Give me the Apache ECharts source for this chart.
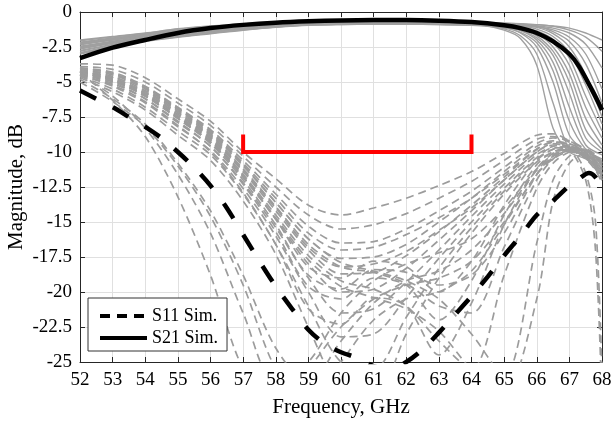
<!DOCTYPE html>
<html>
<head>
<meta charset="utf-8">
<script src="https://cdn.jsdelivr.net/npm/echarts@6/dist/echarts.min.js"></script>
<style>
html,body{margin:0;padding:0;background:#fff;}
#chart{width:611px;height:423px;}
</style>
</head>
<body>
<div id="chart"></div>
<script>
// ---- nominal simulated S-parameters ----
const freqS11Nom = [52,52.5,53,53.5,54,54.5,55,55.5,56,56.5,57,57.5,58,58.5,59,59.5,60,60.5,61,61.5,62,62.5,63,63.5,64,64.5,65,65.5,66,66.5,67,67.3,67.6,67.8,68];
const s11Nom     = [-5.6,-6.2,-6.8,-7.5,-8.2,-9.0,-10.0,-11.1,-12.4,-14.0,-15.9,-17.8,-19.6,-21.2,-22.7,-23.7,-24.3,-24.7,-25.3,-25.5,-25.0,-24.1,-22.9,-21.6,-20.3,-18.9,-17.4,-16.0,-14.5,-13.5,-12.4,-11.9,-11.5,-11.8,-12.6];
const freqS21Nom = [52,53,54,55,56,57,58,59,60,61,62,63,64,65,65.5,66,66.5,67,67.3,67.7,68];
const s21Nom     = [-3.3,-2.55,-2.0,-1.5,-1.15,-0.92,-0.76,-0.66,-0.6,-0.58,-0.58,-0.62,-0.72,-0.95,-1.15,-1.5,-2.1,-3.0,-3.9,-5.6,-7.0];

// ---- Monte-Carlo runs (grey) ----
const freqS21MC = [52,53,54,55,56,57,58,59,60,61,62,63,64,65,65.5,66,66.5,67,67.5,68];
const s21MC = [
  [-2.0,-1.75,-1.5,-1.2,-1.0,-0.85,-0.75,-0.68,-0.62,-0.6,-0.6,-0.62,-0.68, -0.9,-1.1,-1.55,-2.5,-4.4,-7.6,-9.5],
  [-2.15,-1.86,-1.59,-1.29,-1.08,-0.92,-0.8,-0.72,-0.66,-0.64,-0.64,-0.66,-0.72, -1.1,-1.5,-2.5,-5.0,-8.8,-10.0,-10.8],
  [-2.3,-1.98,-1.68,-1.38,-1.17,-0.99,-0.86,-0.76,-0.7,-0.68,-0.68,-0.7,-0.76, -0.85,-0.95,-1.1,-1.55,-2.5,-4.5,-7.5],
  [-2.45,-2.09,-1.77,-1.47,-1.25,-1.05,-0.91,-0.8,-0.75,-0.73,-0.73,-0.75,-0.8, -1.3,-1.9,-3.8,-8.3,-10.0,-10.5,-11.5],
  [-2.6,-2.2,-1.86,-1.56,-1.33,-1.12,-0.96,-0.84,-0.79,-0.77,-0.77,-0.79,-0.84, -0.9,-0.95,-1.0,-1.15,-1.5,-2.3,-4.0],
  [-2.75,-2.31,-1.95,-1.65,-1.41,-1.19,-1.01,-0.88,-0.83,-0.81,-0.81,-0.83,-0.88, -1.05,-1.3,-1.85,-3.1,-5.8,-9.0,-10.0],
  [-2.9,-2.43,-2.04,-1.74,-1.5,-1.26,-1.07,-0.92,-0.87,-0.85,-0.85,-0.87,-0.92, -1.0,-1.1,-1.35,-1.95,-3.3,-6.0,-8.5],
  [-3.0,-2.5,-2.1,-1.8,-1.55,-1.3,-1.1,-0.95,-0.9,-0.88,-0.88,-0.9,-0.95, -1.15,-1.45,-2.2,-4.2,-7.8,-9.8,-10.5],
  [-2.05,-1.79,-1.53,-1.23,-1.03,-0.87,-0.77,-0.69,-0.63,-0.61,-0.61,-0.63,-0.69, -0.8,-0.85,-1.0,-1.4,-2.1,-3.7,-6.5],
  [-2.2,-1.9,-1.62,-1.32,-1.11,-0.94,-0.82,-0.73,-0.68,-0.66,-0.66,-0.68,-0.73, -1.2,-1.7,-3.0,-6.5,-9.8,-10.2,-11.0],
  [-2.35,-2.01,-1.71,-1.41,-1.19,-1.01,-0.87,-0.77,-0.72,-0.7,-0.7,-0.72,-0.77, -0.8,-0.83,-0.9,-1.02,-1.3,-1.8,-2.8],
  [-2.5,-2.13,-1.8,-1.5,-1.28,-1.08,-0.93,-0.82,-0.76,-0.74,-0.74,-0.76,-0.82, -0.98,-1.2,-1.7,-2.8,-5.0,-8.4,-9.8],
  [-2.65,-2.24,-1.89,-1.59,-1.36,-1.14,-0.98,-0.86,-0.8,-0.78,-0.78,-0.8,-0.86, -0.95,-1.02,-1.22,-1.75,-2.9,-5.2,-8.0],
  [-2.8,-2.35,-1.98,-1.68,-1.44,-1.21,-1.03,-0.9,-0.84,-0.82,-0.82,-0.84,-0.9, -1.05,-1.32,-2.0,-3.6,-6.8,-9.5,-10.2],
  [-2.95,-2.46,-2.07,-1.77,-1.52,-1.28,-1.08,-0.94,-0.89,-0.87,-0.87,-0.89,-0.94, -0.98,-1.0,-1.05,-1.28,-1.8,-3.0,-5.5],
  [-2.25,-1.94,-1.65,-1.35,-1.14,-0.96,-0.84,-0.75,-0.69,-0.67,-0.67,-0.69,-0.75, -0.9,-1.05,-1.4,-2.2,-3.8,-6.8,-9.0],
  [-2.55,-2.16,-1.83,-1.53,-1.3,-1.1,-0.94,-0.83,-0.77,-0.75,-0.75,-0.77,-0.83, -0.86,-0.88,-0.9,-1.0,-1.15,-1.5,-2.0]
];
const freqS11MC = [52,53,54,55,56,57,58,59,60,61,62,63,64,65,66,66.5,67,67.5,67.8,68];
const s11MC = [
  [-3.7,-3.8,-4.7,-6.2,-7.8,-10.0,-11.9,-13.8,-14.5,-14.0,-13.3,-12.4,-11.4,-10.1,-8.8,-8.7,-9.2,-9.9,-10.4,-10.8],
  [-3.9,-4.1,-5.0,-6.5,-8.1,-10.3,-12.5,-14.5,-15.5,-15.2,-14.4,-13.3,-12.1,-10.6,-9.1,-8.9,-9.3,-10.1,-10.7,-11.2],
  [-4.0,-4.3,-5.3,-6.8,-8.4,-10.6,-13.0,-15.3,-16.5,-16.4,-15.5,-14.2,-12.8,-11.1,-9.4,-9.0,-9.2,-9.8,-10.3,-10.8],
  [-4.1,-4.5,-5.5,-7.0,-8.7,-11.0,-13.6,-16.2,-17.6,-17.5,-16.6,-15.0,-13.3,-11.4,-9.6,-9.2,-9.5,-10.3,-11.0,-11.6],
  [-4.2,-4.7,-5.8,-7.3,-9.0,-11.4,-14.2,-17.0,-18.7,-18.6,-17.4,-15.7,-13.8,-11.8,-9.8,-9.3,-9.4,-10.0,-10.6,-11.2],
  [-4.3,-4.9,-6.0,-7.6,-9.3,-11.8,-14.8,-18.0,-20.0,-19.8,-18.3,-16.3,-14.2,-12.0,-10.0,-9.5,-9.6,-10.4,-11.2,-12.0],
  [-4.4,-5.1,-6.2,-7.9,-9.6,-12.2,-15.4,-19.0,-21.5,-21.2,-19.3,-17.0,-14.6,-12.3,-10.2,-9.6,-9.5,-10.1,-10.8,-11.5],
  [-4.5,-5.3,-6.5,-8.2,-9.9,-12.6,-16.0,-20.0,-23.2,-23.0,-20.4,-17.6,-15.0,-12.6,-10.4,-9.7,-9.7,-10.5,-11.3,-12.2],
  [-4.6,-5.5,-6.8,-8.5,-10.2,-13.0,-16.6,-21.0,-25.0,-25.5,-21.8,-18.3,-15.4,-12.8,-10.5,-9.8,-9.6,-10.2,-10.9,-11.6],
  [-4.7,-5.7,-7.0,-8.8,-10.6,-13.5,-17.3,-22.5,-27.0,-27.5,-23.0,-19.0,-15.8,-13.0,-10.7,-10.0,-9.8,-10.3,-11.0,-11.8],
  [-4.2,-4.8,-5.9,-7.5,-9.2,-11.7,-14.8,-18.2,-19.0,-17.8,-18.2,-20.0,-17.8,-13.8,-10.6,-9.8,-9.6,-10.2,-10.9,-11.6],
  [-4.4,-5.0,-6.2,-7.8,-9.6,-12.3,-15.7,-19.6,-20.5,-19.0,-19.5,-22.0,-19.2,-14.5,-10.9,-10.0,-9.7,-10.1,-10.6,-11.2],
  [-4.5,-5.2,-6.4,-8.1,-10.0,-12.9,-16.6,-21.2,-22.3,-20.4,-21.0,-24.5,-20.8,-15.2,-11.2,-10.1,-9.8,-10.4,-11.1,-11.9],
  [-4.3,-4.9,-6.0,-7.6,-9.4,-12.0,-15.2,-18.8,-19.8,-18.4,-18.6,-19.5,-18.8,-15.8,-11.6,-10.3,-9.9,-10.2,-10.7,-11.3],
  [-4.1,-4.6,-5.6,-7.1,-8.8,-11.2,-13.9,-16.6,-18.2,-18.6,-19.4,-21.0,-21.5,-16.8,-12.0,-10.5,-9.9,-9.9,-10.4,-11.0],
  [-4.2,-4.8,-5.8,-7.4,-9.1,-11.6,-14.5,-17.4,-19.2,-19.8,-21.0,-23.5,-25.5,-18.8,-12.6,-10.8,-10.0,-9.8,-10.2,-10.7],
  [-4.0,-4.4,-5.4,-6.9,-8.6,-10.9,-13.6,-16.2,-17.9,-18.5,-19.2,-20.5,-23.0,-26.0,-16.5,-12.0,-10.3,-10.0,-10.4,-10.9],
  [-4.3,-4.9,-6.0,-7.6,-9.3,-11.8,-14.7,-17.7,-19.6,-20.4,-21.2,-22.8,-25.5,-27.0,-20.5,-13.5,-10.8,-10.1,-10.3,-10.8],
  [-4.5,-6.0,-8.3,-11.6,-15.8,-21.5,-26.5,-25.0,-21.5,-19.2,-18.0,-17.2,-16.2,-14.0,-11.2,-10.2,-9.8,-10.3,-11.0,-11.8],
  [-4.3,-6.3,-8.9,-13.2,-18.8,-25.5,-28.0,-25.5,-22.5,-20.5,-19.5,-19.0,-17.8,-15.0,-11.6,-10.4,-9.9,-10.2,-10.8,-11.5],
  [-4.8,-6.2,-8.0,-10.8,-14.2,-18.8,-24.0,-26.5,-23.5,-20.8,-19.2,-18.5,-17.0,-14.4,-11.3,-10.3,-9.8,-10.4,-11.2,-12.0],
  [-5.0,-6.4,-8.2,-11.0,-14.6,-19.5,-25.5,-28.0,-25.0,-22.0,-20.5,-20.0,-18.5,-15.2,-11.6,-10.5,-10.0,-10.3,-10.9,-11.6],
  [-4.0,-4.4,-5.4,-6.9,-8.5,-10.8,-13.3,-15.8,-17.0,-16.8,-15.9,-14.7,-13.3,-11.6,-9.8,-9.3,-9.6,-11.5,-15.0,-26.0],
  [-4.2,-4.7,-5.7,-7.2,-8.9,-11.3,-14.0,-16.8,-18.2,-18.0,-17.1,-15.6,-14.0,-12.0,-10.0,-9.4,-9.8,-12.0,-17.0,-28.0]
];

// ---- specification mask ----
const maskX = [57,57,64,64];
const maskY = [-8.9,-10,-10,-8.9];

// ---- axis ticks ----
const xMin = 52, xMax = 68, xStep = 1;
const yMin = -25, yMax = 0, yStep = 2.5;

const FONT = 'Liberation Serif';
const pairs = (xs, ys) => xs.map((x, i) => [x, ys[i]]);

const series = [];
s21MC.forEach(v => series.push({
  type:'line', data: pairs(freqS21MC, v), symbol:'none', smooth:0.3, silent:true,
  lineStyle:{color:'#a0a0a0', width:1.4}, z:2
}));
s11MC.forEach(v => series.push({
  type:'line', data: pairs(freqS11MC, v), symbol:'none', smooth:0.3, silent:true,
  lineStyle:{color:'#9c9c9c', width:1.7, type:[8,5]}, z:2
}));
series.push({
  name:'S11 Sim.', type:'line', data: pairs(freqS11Nom, s11Nom), symbol:'none', symbolSize:0, smooth:0.3,
  itemStyle:{color:'#000', opacity:0},
  lineStyle:{color:'#000', width:4.5, type:[18,19]}, z:5
});
series.push({
  name:'S21 Sim.', type:'line', data: pairs(freqS21Nom, s21Nom), symbol:'none', symbolSize:0, smooth:0.3,
  itemStyle:{color:'#000', opacity:0},
  lineStyle:{color:'#000', width:4.5}, z:5
});
series.push({
  type:'line', data: pairs(maskX, maskY), symbol:'none', smooth:false, silent:true,
  lineStyle:{color:'#ff0000', width:4, cap:'square', join:'miter'}, z:6
});

const axisCommon = {
  axisLine:{show:true, onZero:false, lineStyle:{color:'#262626', width:1}},
  axisTick:{show:true, inside:true, length:5, lineStyle:{color:'#262626'}},
};

const chart = echarts.init(document.getElementById('chart'), null, {renderer:'canvas'});
chart.setOption({
  animation:false,
  backgroundColor:'#fff',
  grid:{left:80, right:9, top:12, bottom:61, containLabel:false, outerBoundsMode:'none'},
  xAxis:[
    Object.assign({type:'value', min:xMin, max:xMax, interval:xStep, position:'bottom',
      name:'Frequency, GHz', nameLocation:'middle', nameGap:35, nameMoveOverlap:false,
      nameTextStyle:{fontFamily:FONT, fontSize:21, color:'#000'},
      axisLabel:{fontFamily:FONT, fontSize:19, color:'#000', margin:9},
      splitLine:{show:true, lineStyle:{color:'#e0e0e0', width:1}}}, axisCommon),
    Object.assign({type:'value', min:xMin, max:xMax, interval:xStep, position:'top',
      axisLabel:{show:false}, splitLine:{show:false}}, axisCommon)
  ],
  yAxis:[
    Object.assign({type:'value', min:yMin, max:yMax, interval:yStep, position:'left',
      name:'Magnitude, dB', nameLocation:'middle', nameGap:53, nameRotate:90, nameMoveOverlap:false,
      nameTextStyle:{fontFamily:FONT, fontSize:21, color:'#000', lineHeight:22},
      axisLabel:{fontFamily:FONT, fontSize:19, color:'#000', margin:8},
      splitLine:{show:true, lineStyle:{color:'#e0e0e0', width:1}}}, axisCommon),
    Object.assign({type:'value', min:yMin, max:yMax, interval:yStep, position:'right',
      axisLabel:{show:false}, splitLine:{show:false}}, axisCommon)
  ],
  legend:{
    show:true, left:88, top:298, orient:'vertical',
    padding:[9,9,4,10], itemGap:4, itemWidth:47, itemHeight:14,
    backgroundColor:'#fff', borderColor:'#333', borderWidth:1,
    textStyle:{fontFamily:FONT, fontSize:18, color:'#000', padding:[0,0,0,0]},
    data:[
      {name:'S11 Sim.', itemStyle:{opacity:0}, lineStyle:{type:[10,7], width:4, color:'#000'}},
      {name:'S21 Sim.', itemStyle:{opacity:0}, lineStyle:{width:4, color:'#000'}}
    ],
    selectedMode:false
  },
  series: series
});
</script>
</body>
</html>
